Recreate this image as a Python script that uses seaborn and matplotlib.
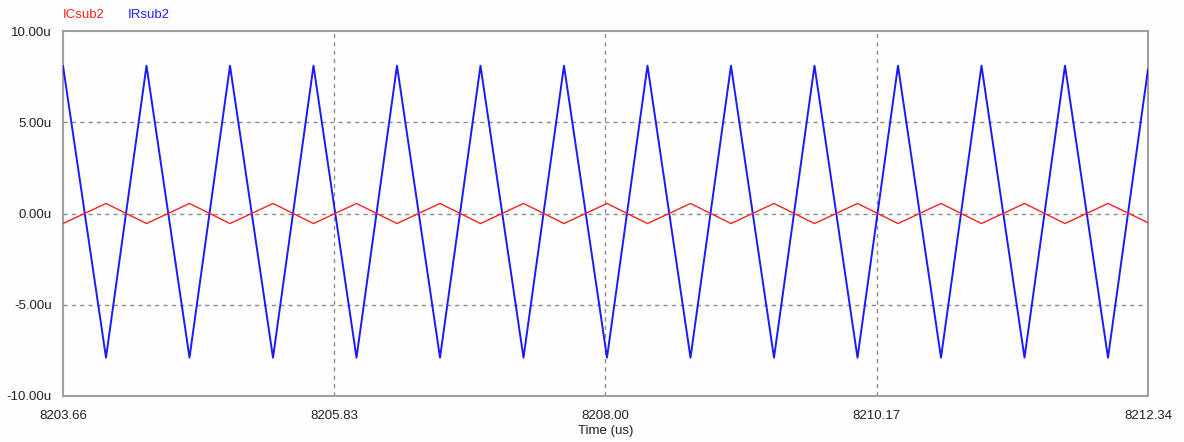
import pandas as pd
import seaborn as sns
import matplotlib.pyplot as plt

# waveform vertices (time in us, current in uA)
t_vertex = [8203.660, 8204.004, 8204.328, 8204.672, 8204.996, 8205.340, 8205.664,
            8206.008, 8206.332, 8206.676, 8207.000, 8207.344, 8207.668, 8208.012,
            8208.336, 8208.680, 8209.004, 8209.348, 8209.672, 8210.016, 8210.340,
            8210.684, 8211.008, 8211.352, 8211.676, 8212.020, 8212.340]
ir_sub2 = [8.1, -7.9, 8.1, -7.9, 8.1, -7.9, 8.1, -7.9, 8.1, -7.9, 8.1, -7.9, 8.1, -7.9,
           8.1, -7.9, 8.1, -7.9, 8.1, -7.9, 8.1, -7.9, 8.1, -7.9, 8.1, -7.9, 7.9]
ic_sub2 = [-0.55, 0.55, -0.55, 0.55, -0.55, 0.55, -0.55, 0.55, -0.55, 0.55, -0.55, 0.55,
           -0.55, 0.55, -0.55, 0.55, -0.55, 0.55, -0.55, 0.55, -0.55, 0.55, -0.55, 0.55,
           -0.55, 0.55, -0.5]

x_ticks = [8203.66, 8205.83, 8208.00, 8210.17, 8212.34]
y_ticks = [-10, -5, 0, 5, 10]
y_labels = ["-10.00u", "-5.00u", "0.00u", "5.00u", "10.00u"]

df = pd.DataFrame({"t": t_vertex, "IRsub2": ir_sub2, "ICsub2": ic_sub2})

sns.set_style("white")
plt.rcParams["font.family"] = ["Liberation Sans", "DejaVu Sans"]

fig = plt.figure(figsize=(11.84, 4.42), dpi=100)
fig.patch.set_facecolor("#fefefe")
ax = fig.add_axes([63 / 1184, 46 / 442, 1085 / 1184, 365 / 442])
ax.set_facecolor("#fefefe")

sns.lineplot(data=df, x="t", y="IRsub2", color="#1a1aff", linewidth=1.4, ax=ax, zorder=3)
sns.lineplot(data=df, x="t", y="ICsub2", color="#ff2020", linewidth=1.0, ax=ax, zorder=4)

ax.set_xlim(x_ticks[0], x_ticks[-1])
ax.set_ylim(-10, 10)
ax.set_xticks(x_ticks)
ax.set_xticklabels([f"{v:.2f}" for v in x_ticks])
ax.set_yticks(y_ticks)
ax.set_yticklabels(y_labels)
ax.tick_params(length=0, labelsize=9.5, colors="#222222")
ax.tick_params(axis="x", pad=10)
ax.tick_params(axis="y", pad=8)

for v in [-5, 0, 5]:
    ax.axhline(v, color="#8c8c8c", lw=1, ls=(0, (3, 3)), zorder=1)
for v in x_ticks[1:-1]:
    ax.axvline(v, color="#8c8c8c", lw=1, ls=(0, (3, 3)), zorder=1)

for s in ax.spines.values():
    s.set_color("#a0a0a0")
    s.set_linewidth(1.5)

ax.set_xlabel("Time (us)", fontsize=9.5, color="#222222", labelpad=2)
ax.set_ylabel("")

fig.text(63 / 1184, 1 - 15 / 442, "ICsub2", color="#ff2020", fontsize=9.5, va="center")
fig.text(128 / 1184, 1 - 15 / 442, "IRsub2", color="#2020ff", fontsize=9.5, va="center")

fig.savefig("out.png", dpi=100, facecolor=fig.get_facecolor())
